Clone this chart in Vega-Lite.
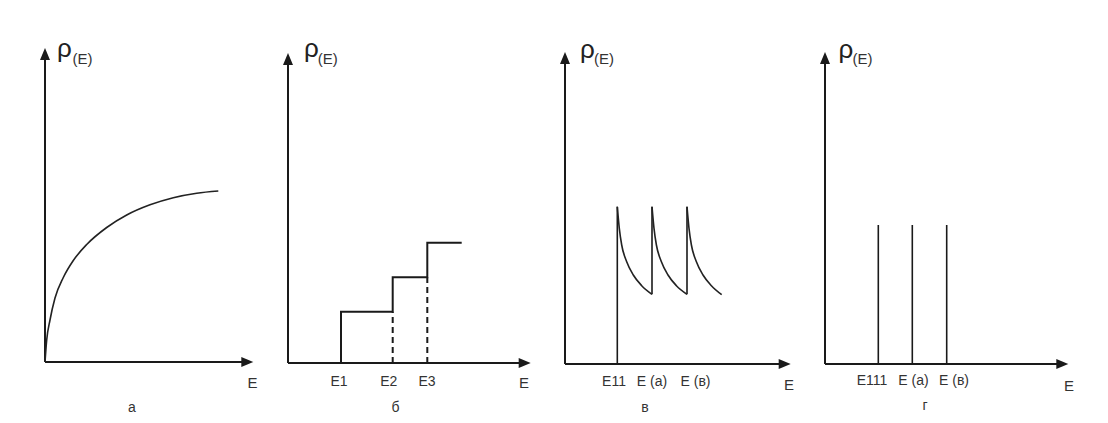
{
  "$schema": "https://vega.github.io/schema/vega-lite/v6.json",
  "background": "white",
  "padding": {"left": 40, "top": 30, "right": 0, "bottom": 0},
  "spacing": 0,
  "bounds": "flush",
  "config": {"view": {"stroke": null}, "font": "Liberation Sans"},
  "hconcat": [
    {
      "width": 243, "height": 393,
      "encoding": {
        "x": {"field": "x", "type": "quantitative", "scale": {"domain": [0, 24.3], "nice": false, "zero": false}, "axis": null},
        "y": {"field": "y", "type": "quantitative", "scale": {"domain": [-6.1, 33.2], "nice": false, "zero": false}, "axis": null}
      },
      "layer": [
        {"data": {"values": [{"x": 0, "y": 0, "x2": 19.9, "y2": 0}, {"x": 0, "y": 0, "x2": 0, "y2": 30.5}]},
         "mark": {"type": "rule", "color": "#1a1a1a", "strokeWidth": 2},
         "encoding": {"x2": {"field": "x2"}, "y2": {"field": "y2"}}},
        {"data": {"values": [{"x": 20.83, "y": 0}]},
         "mark": {"type": "point", "shape": "M-2,-0.833L0,0L-2,0.833Z", "size": 144, "filled": true, "color": "#1a1a1a", "opacity": 1, "strokeWidth": 0}},
        {"data": {"values": [{"x": 0, "y": 31.4}]},
         "mark": {"type": "point", "shape": "M-0.833,2L0,0L0.833,2Z", "size": 144, "filled": true, "color": "#1a1a1a", "opacity": 1, "strokeWidth": 0}},
        {"data": {"values": [
          {"x": 0, "y": 0}, {"x": 0.17, "y": 2.2}, {"x": 0.5, "y": 4.2}, {"x": 1.0, "y": 6.4}, {"x": 1.83, "y": 8.45},
          {"x": 2.83, "y": 10.15}, {"x": 4.17, "y": 11.75}, {"x": 6.17, "y": 13.45}, {"x": 8.17, "y": 14.7},
          {"x": 10.5, "y": 15.72}, {"x": 12.83, "y": 16.43}, {"x": 15.17, "y": 16.88}, {"x": 17.33, "y": 17.1}
        ]},
         "mark": {"type": "line", "interpolate": "monotone", "color": "#222222", "strokeWidth": 1.6}},
        {"data": {"values": [{"x": 1.2, "y": 30.5, "t": "ρ"}]},
         "mark": {"type": "text", "fontSize": 26, "align": "left", "baseline": "alphabetic", "color": "#222222"},
         "encoding": {"text": {"field": "t"}}},
        {"data": {"values": [{"x": 2.75, "y": 29.85, "t": "(E)"}]},
         "mark": {"type": "text", "fontSize": 15, "align": "left", "baseline": "alphabetic", "color": "#333333"},
         "encoding": {"text": {"field": "t"}}},
        {"data": {"values": [{"x": 8.7, "y": -5.0, "t": "а"}]},
         "mark": {"type": "text", "fontSize": 14, "align": "center", "baseline": "alphabetic", "color": "#333333"},
         "encoding": {"text": {"field": "t"}}},
        {"data": {"values": [{"x": 20.75, "y": -2.6, "t": "E"}]},
         "mark": {"type": "text", "fontSize": 15, "align": "center", "baseline": "alphabetic", "color": "#333333"},
         "encoding": {"text": {"field": "t"}}}
      ]
    },
    {
      "width": 277, "height": 393,
      "encoding": {
        "x": {"field": "x", "type": "quantitative", "scale": {"domain": [0, 27.7], "nice": false, "zero": false}, "axis": null},
        "y": {"field": "y", "type": "quantitative", "scale": {"domain": [-6.0, 33.3], "nice": false, "zero": false}, "axis": null}
      },
      "layer": [
        {"data": {"values": [{"x": 0, "y": 0, "x2": 23.3, "y2": 0}, {"x": 0, "y": 0, "x2": 0, "y2": 30.1}]},
         "mark": {"type": "rule", "color": "#1a1a1a", "strokeWidth": 2},
         "encoding": {"x2": {"field": "x2"}, "y2": {"field": "y2"}}},
        {"data": {"values": [{"x": 24.27, "y": 0}]},
         "mark": {"type": "point", "shape": "M-2,-0.833L0,0L-2,0.833Z", "size": 144, "filled": true, "color": "#1a1a1a", "opacity": 1, "strokeWidth": 0}},
        {"data": {"values": [{"x": 0, "y": 31.0}]},
         "mark": {"type": "point", "shape": "M-0.833,2L0,0L0.833,2Z", "size": 144, "filled": true, "color": "#1a1a1a", "opacity": 1, "strokeWidth": 0}},
        {"data": {"values": [
          {"i": 0, "x": 5.3, "y": 0}, {"i": 1, "x": 5.3, "y": 5.13}, {"i": 2, "x": 10.47, "y": 5.13},
          {"i": 3, "x": 10.47, "y": 8.57}, {"i": 4, "x": 13.93, "y": 8.57}, {"i": 5, "x": 13.93, "y": 12.03},
          {"i": 6, "x": 17.37, "y": 12.03}
        ]},
         "mark": {"type": "line", "color": "#1a1a1a", "strokeWidth": 2},
         "encoding": {"order": {"field": "i", "type": "quantitative"}}},
        {"data": {"values": [{"x": 10.47, "y": 0, "x2": 10.47, "y2": 5.13}, {"x": 13.93, "y": 0, "x2": 13.93, "y2": 8.57}]},
         "mark": {"type": "rule", "color": "#1a1a1a", "strokeWidth": 2, "strokeDash": [6, 4]},
         "encoding": {"x2": {"field": "x2"}, "y2": {"field": "y2"}}},
        {"data": {"values": [{"x": 1.6, "y": 30.6, "t": "ρ"}]},
         "mark": {"type": "text", "fontSize": 26, "align": "left", "baseline": "alphabetic", "color": "#222222"},
         "encoding": {"text": {"field": "t"}}},
        {"data": {"values": [{"x": 2.97, "y": 29.95, "t": "(E)"}]},
         "mark": {"type": "text", "fontSize": 15, "align": "left", "baseline": "alphabetic", "color": "#333333"},
         "encoding": {"text": {"field": "t"}}},
        {"data": {"values": [
          {"x": 5.1, "y": -2.3, "t": "E1"}, {"x": 10.07, "y": -2.3, "t": "E2"}, {"x": 13.9, "y": -2.3, "t": "E3"},
          {"x": 10.75, "y": -4.87, "t": "б"}
        ]},
         "mark": {"type": "text", "fontSize": 14, "align": "center", "baseline": "alphabetic", "color": "#333333"},
         "encoding": {"text": {"field": "t"}}},
        {"data": {"values": [{"x": 23.6, "y": -2.5, "t": "E"}]},
         "mark": {"type": "text", "fontSize": 15, "align": "center", "baseline": "alphabetic", "color": "#333333"},
         "encoding": {"text": {"field": "t"}}}
      ]
    },
    {
      "width": 260, "height": 393,
      "encoding": {
        "x": {"field": "x", "type": "quantitative", "scale": {"domain": [0, 26.0], "nice": false, "zero": false}, "axis": null},
        "y": {"field": "y", "type": "quantitative", "scale": {"domain": [-5.9, 33.4], "nice": false, "zero": false}, "axis": null}
      },
      "layer": [
        {"data": {"values": [{"x": 0, "y": 0, "x2": 21.6, "y2": 0}, {"x": 0, "y": 0, "x2": 0, "y2": 30.2}]},
         "mark": {"type": "rule", "color": "#1a1a1a", "strokeWidth": 2},
         "encoding": {"x2": {"field": "x2"}, "y2": {"field": "y2"}}},
        {"data": {"values": [{"x": 22.57, "y": 0}]},
         "mark": {"type": "point", "shape": "M-2,-0.833L0,0L-2,0.833Z", "size": 144, "filled": true, "color": "#1a1a1a", "opacity": 1, "strokeWidth": 0}},
        {"data": {"values": [{"x": 0, "y": 31.2}]},
         "mark": {"type": "point", "shape": "M-0.833,2L0,0L0.833,2Z", "size": 144, "filled": true, "color": "#1a1a1a", "opacity": 1, "strokeWidth": 0}},
        {"data": {"values": [{"x": 5.23, "y": 0, "x2": 5.23, "y2": 15.73}, {"x": 8.7, "y": 6.97, "x2": 8.7, "y2": 15.73}, {"x": 12.2, "y": 6.97, "x2": 12.2, "y2": 15.73}]},
         "mark": {"type": "rule", "color": "#1a1a1a", "strokeWidth": 1.6},
         "encoding": {"x2": {"field": "x2"}, "y2": {"field": "y2"}}},
        {"data": {"values": [
          {"s": 1, "x": 5.23, "y": 15.73}, {"s": 1, "x": 5.43, "y": 13.57}, {"s": 1, "x": 5.67, "y": 11.9}, {"s": 1, "x": 6.17, "y": 10.23},
          {"s": 1, "x": 6.83, "y": 8.9}, {"s": 1, "x": 7.67, "y": 7.83}, {"s": 1, "x": 8.7, "y": 6.97},
          {"s": 2, "x": 8.7, "y": 15.73}, {"s": 2, "x": 8.9, "y": 13.57}, {"s": 2, "x": 9.14, "y": 11.9}, {"s": 2, "x": 9.64, "y": 10.23},
          {"s": 2, "x": 10.3, "y": 8.9}, {"s": 2, "x": 11.14, "y": 7.83}, {"s": 2, "x": 12.2, "y": 6.97},
          {"s": 3, "x": 12.2, "y": 15.73}, {"s": 3, "x": 12.4, "y": 13.57}, {"s": 3, "x": 12.64, "y": 11.9}, {"s": 3, "x": 13.14, "y": 10.23},
          {"s": 3, "x": 13.8, "y": 8.9}, {"s": 3, "x": 14.64, "y": 7.83}, {"s": 3, "x": 15.67, "y": 6.93}
        ]},
         "mark": {"type": "line", "interpolate": "monotone", "color": "#222222", "strokeWidth": 1.6},
         "encoding": {"detail": {"field": "s", "type": "nominal"}}},
        {"data": {"values": [{"x": 1.5, "y": 30.65, "t": "ρ"}]},
         "mark": {"type": "text", "fontSize": 26, "align": "left", "baseline": "alphabetic", "color": "#222222"},
         "encoding": {"text": {"field": "t"}}},
        {"data": {"values": [{"x": 2.9, "y": 30.0, "t": "(E)"}]},
         "mark": {"type": "text", "fontSize": 15, "align": "left", "baseline": "alphabetic", "color": "#333333"},
         "encoding": {"text": {"field": "t"}}},
        {"data": {"values": [
          {"x": 4.9, "y": -2.2, "t": "E11"}, {"x": 8.7, "y": -2.2, "t": "E (а)"}, {"x": 13.05, "y": -2.2, "t": "E (в)"},
          {"x": 8.0, "y": -4.77, "t": "в"}
        ]},
         "mark": {"type": "text", "fontSize": 14, "align": "center", "baseline": "alphabetic", "color": "#333333"},
         "encoding": {"text": {"field": "t"}}},
        {"data": {"values": [{"x": 22.4, "y": -2.6, "t": "E"}]},
         "mark": {"type": "text", "fontSize": 15, "align": "center", "baseline": "alphabetic", "color": "#333333"},
         "encoding": {"text": {"field": "t"}}}
      ]
    },
    {
      "width": 283, "height": 393,
      "encoding": {
        "x": {"field": "x", "type": "quantitative", "scale": {"domain": [0, 28.3], "nice": false, "zero": false}, "axis": null},
        "y": {"field": "y", "type": "quantitative", "scale": {"domain": [-5.9, 33.4], "nice": false, "zero": false}, "axis": null}
      },
      "layer": [
        {"data": {"values": [{"x": 0, "y": 0, "x2": 23.35, "y2": 0}, {"x": 0, "y": 0, "x2": 0, "y2": 30.2}]},
         "mark": {"type": "rule", "color": "#1a1a1a", "strokeWidth": 2},
         "encoding": {"x2": {"field": "x2"}, "y2": {"field": "y2"}}},
        {"data": {"values": [{"x": 24.33, "y": 0}]},
         "mark": {"type": "point", "shape": "M-2,-0.833L0,0L-2,0.833Z", "size": 144, "filled": true, "color": "#1a1a1a", "opacity": 1, "strokeWidth": 0}},
        {"data": {"values": [{"x": 0, "y": 31.2}]},
         "mark": {"type": "point", "shape": "M-0.833,2L0,0L0.833,2Z", "size": 144, "filled": true, "color": "#1a1a1a", "opacity": 1, "strokeWidth": 0}},
        {"data": {"values": [{"x": 5.33, "y": 0, "x2": 5.33, "y2": 13.9}, {"x": 8.73, "y": 0, "x2": 8.73, "y2": 13.9}, {"x": 12.17, "y": 0, "x2": 12.17, "y2": 13.9}]},
         "mark": {"type": "rule", "color": "#1a1a1a", "strokeWidth": 1.6},
         "encoding": {"x2": {"field": "x2"}, "y2": {"field": "y2"}}},
        {"data": {"values": [{"x": 1.35, "y": 30.65, "t": "ρ"}]},
         "mark": {"type": "text", "fontSize": 26, "align": "left", "baseline": "alphabetic", "color": "#222222"},
         "encoding": {"text": {"field": "t"}}},
        {"data": {"values": [{"x": 2.75, "y": 30.0, "t": "(E)"}]},
         "mark": {"type": "text", "fontSize": 15, "align": "left", "baseline": "alphabetic", "color": "#333333"},
         "encoding": {"text": {"field": "t"}}},
        {"data": {"values": [
          {"x": 4.7, "y": -2.1, "t": "E111"}, {"x": 8.85, "y": -2.1, "t": "E (а)"}, {"x": 12.9, "y": -2.1, "t": "E (в)"},
          {"x": 10.0, "y": -4.6, "t": "г"}
        ]},
         "mark": {"type": "text", "fontSize": 14, "align": "center", "baseline": "alphabetic", "color": "#333333"},
         "encoding": {"text": {"field": "t"}}},
        {"data": {"values": [{"x": 24.4, "y": -2.7, "t": "E"}]},
         "mark": {"type": "text", "fontSize": 15, "align": "center", "baseline": "alphabetic", "color": "#333333"},
         "encoding": {"text": {"field": "t"}}}
      ]
    }
  ]
}
